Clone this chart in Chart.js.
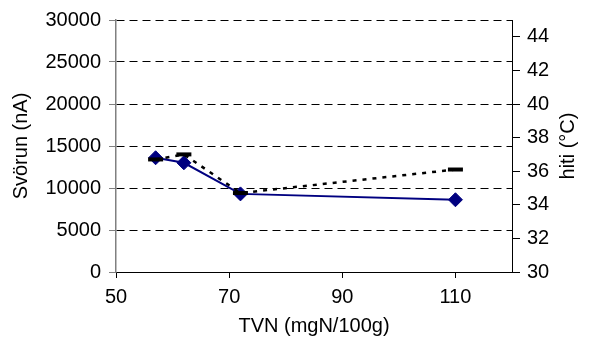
<!DOCTYPE html>
<html>
<head>
<meta charset="utf-8">
<script src="https://cdn.jsdelivr.net/npm/chart.js@4/dist/chart.umd.min.js"></script>
<style>
  html, body { margin: 0; padding: 0; background: #fff; }
  #wrap { width: 596px; height: 347px; }
</style>
</head>
<body>
<div id="wrap"><canvas id="tvnChart" width="596" height="347"></canvas></div>
<script>
// data
const tvn = [57, 62, 72, 110];
const svorun = [13600, 13000, 9300, 8600];
const hiti = [36.7, 37.0, 34.7, 36.1];

const xTicks = [50, 70, 90, 110];
const yTicks = [0, 5000, 10000, 15000, 20000, 25000, 30000];
const y1Ticks = [30, 32, 34, 36, 38, 40, 42, 44];

const FONT = '"Liberation Sans", Arial, sans-serif';
const SIZE = 20;

const pairs = (xs, ys) => xs.map((x, i) => ({ x: x, y: ys[i] }));
const setTicks = list => scale => { scale.ticks = list.map(v => ({ value: v })); };
const plain = v => String(v);

// right-hand axis title reads bottom-to-top, so draw it by hand
const rightTitle = {
    id: 'rightTitle',
    afterDraw(chart) {
        const ctx = chart.ctx;
        const area = chart.chartArea;
        const s = chart.scales.y1;
        ctx.save();
        ctx.translate(s.right - 28, (area.top + area.bottom) / 2);
        ctx.rotate(-Math.PI / 2);
        ctx.font = SIZE + 'px ' + FONT;
        ctx.fillStyle = '#000';
        ctx.textAlign = 'center';
        ctx.textBaseline = 'middle';
        ctx.fillText('hiti (°C)', 0, 0);
        ctx.restore();
    }
};

const ctx = document.getElementById('tvnChart').getContext('2d');
const tvnChart = new Chart(ctx, {
    type: 'scatter',
    data: {
        datasets: [{
            label: 'hiti',
            data: pairs(tvn, hiti),
            yAxisID: 'y1',
            showLine: true,
            order: 0,
            borderColor: '#000',
            borderWidth: 2.5,
            borderDash: [4, 6],
            pointStyle: 'line',
            pointRadius: 7.5,
            pointBorderWidth: 4,
            pointBorderColor: '#000',
            pointBackgroundColor: '#000'
        }, {
            label: 'Svörun',
            data: pairs(tvn, svorun),
            yAxisID: 'y',
            showLine: true,
            order: 1,
            borderColor: '#000080',
            borderWidth: 2,
            pointStyle: 'rectRot',
            pointRadius: 7,
            pointBorderWidth: 1,
            pointBorderColor: '#000080',
            pointBackgroundColor: '#000080'
        }]
    },
    options: {
        responsive: false,
        animation: false,
        layout: { padding: { top: 19, left: 0, right: 0, bottom: 0 } },
        plugins: {
            legend: { display: false },
            tooltip: { enabled: false }
        },
        scales: {
            x: {
                type: 'linear',
                min: 50,
                max: 120,
                afterBuildTicks: setTicks(xTicks),
                afterFit: s => { s.height = 75; },
                grid: { drawOnChartArea: false, color: '#000', tickLength: 6 },
                border: { color: '#000', width: 1 },
                ticks: { color: '#000', font: { family: FONT, size: SIZE }, padding: 7, maxRotation: 0, callback: plain },
                title: {
                    display: true,
                    text: 'TVN (mgN/100g)',
                    color: '#000',
                    font: { family: FONT, size: SIZE },
                    padding: { top: 0, bottom: 9 }
                }
            },
            y: {
                type: 'linear',
                position: 'left',
                min: 0,
                max: 30000,
                afterBuildTicks: setTicks(yTicks),
                afterFit: s => { s.width = 116; },
                grid: { color: '#000', lineWidth: 1, tickColor: '#808080', tickLength: 7 },
                border: { color: '#808080', width: 1.5, dash: [8, 5] },
                ticks: { color: '#000', font: { family: FONT, size: SIZE }, padding: 8, callback: plain },
                title: {
                    display: true,
                    text: 'Svörun (nA)',
                    color: '#000',
                    font: { family: FONT, size: SIZE },
                    padding: { top: 9, bottom: 0 }
                }
            },
            y1: {
                type: 'linear',
                position: 'right',
                min: 30,
                max: 45,
                afterBuildTicks: setTicks(y1Ticks),
                afterFit: s => { s.width = 84; },
                grid: { drawOnChartArea: false, color: '#000', tickLength: 8 },
                border: { color: '#000', width: 1 },
                ticks: { color: '#000', font: { family: FONT, size: SIZE }, padding: 7, callback: plain }
            }
        }
    },
    plugins: [rightTitle]
});
</script>
</body>
</html>
